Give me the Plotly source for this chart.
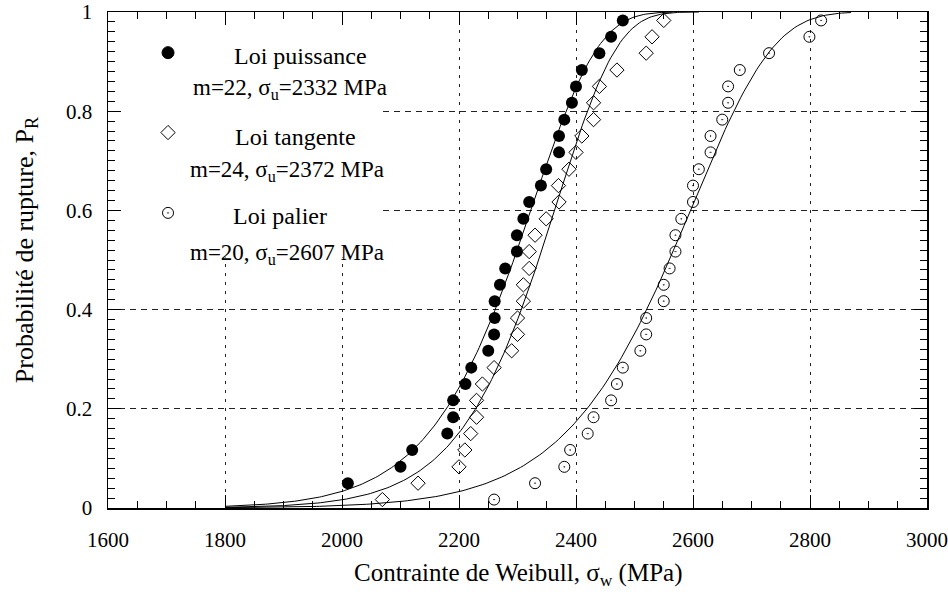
import numpy as np
import plotly.graph_objects as go

# Rank probabilities (30 specimens)
prob = [0.017, 0.05, 0.083, 0.117, 0.15, 0.183, 0.217, 0.25, 0.283, 0.317,
        0.35, 0.383, 0.417, 0.45, 0.483, 0.517, 0.55, 0.583, 0.617, 0.65,
        0.683, 0.717, 0.75, 0.783, 0.817, 0.85, 0.883, 0.917, 0.95, 0.983]

# Loi puissance (first rank not shown on the chart)
prob_puissance = prob[1:]
sigma_puissance = [2010, 2100, 2120, 2180, 2190, 2190, 2211, 2221, 2250, 2260,
                   2261, 2261, 2270, 2279, 2299, 2299, 2310, 2320, 2340, 2349,
                   2371, 2371, 2380, 2393, 2400, 2410, 2440, 2460, 2480]
# Loi tangente
sigma_tangente = [2069, 2130, 2200, 2210, 2220, 2230, 2230, 2240, 2260, 2290,
                  2300, 2300, 2310, 2310, 2320, 2320, 2330, 2349, 2371, 2370,
                  2388, 2400, 2410, 2430, 2430, 2440, 2470, 2520, 2530, 2550]
# Loi palier
sigma_palier = [2260, 2330, 2380, 2390, 2420, 2430, 2460, 2470, 2480, 2510,
                2520, 2520, 2550, 2550, 2560, 2570, 2570, 2580, 2600, 2600,
                2610, 2630, 2630, 2650, 2660, 2660, 2680, 2730, 2799, 2819]

# Weibull fit parameters given in the legend
laws = ["Loi puissance", "Loi tangente", "Loi palier"]
m_weibull = [22, 24, 20]
sigma_u = [2332, 2372, 2607]
curve_start = [1800, 1800, 1800]
curve_end = [2565, 2610, 2870]

x_ticks = [1600, 1800, 2000, 2200, 2400, 2600, 2800, 3000]
y_ticks = [0, 0.2, 0.4, 0.6, 0.8, 1]
y_ticktext = ["0", "0.2", "0.4", "0.6", "0.8", "1"]

FONT = "Liberation Serif"

fig = go.Figure()

# Weibull curves
for m, su, x0, x1 in zip(m_weibull, sigma_u, curve_start, curve_end):
    s = np.linspace(x0, x1, 200)
    pr = 1 - np.exp(-(s / su) ** m)
    fig.add_trace(go.Scatter(x=s, y=pr, mode="lines",
                             line=dict(color="black", width=1), showlegend=False,
                             hoverinfo="skip"))

fig.add_trace(go.Scatter(x=sigma_puissance, y=prob_puissance, mode="markers",
                         marker=dict(symbol="circle", size=12, color="black"),
                         name=laws[0], showlegend=False))
fig.add_trace(go.Scatter(x=sigma_tangente, y=prob, mode="markers",
                         marker=dict(symbol="diamond-open", size=11, color="black",
                                     line=dict(width=1, color="black")),
                         name=laws[1], showlegend=False))
fig.add_trace(go.Scatter(x=sigma_palier, y=prob, mode="markers",
                         marker=dict(symbol="circle-open-dot", size=11, color="black",
                                     line=dict(width=1, color="black")),
                         name=laws[2], showlegend=False))

# Legend block (drawn on an overlay axis in plot-fraction units)
leg_x = [0.0733, 0.0733, 0.0733]
leg_y = [0.918, 0.757, 0.595]
leg_symbols = ["circle", "diamond-open", "circle-open-dot"]
leg_sizes = [12, 11, 11]
for lx, ly, sym, sz in zip(leg_x, leg_y, leg_symbols, leg_sizes):
    fig.add_trace(go.Scatter(x=[lx], y=[ly], mode="markers", xaxis="x2", yaxis="y2",
                             marker=dict(symbol=sym, size=sz, color="black",
                                         line=dict(width=1, color="black")),
                             showlegend=False, hoverinfo="skip"))

leg_lines = [
    ("Loi puissance", 0.2350, 0.9105, 24),
    ("m=22, σ<sub>u</sub>=2332 MPa", 0.2225, 0.845, 23),
    ("Loi tangente", 0.2285, 0.7486, 24),
    ("m=24, σ<sub>u</sub>=2372 MPa", 0.2190, 0.680, 23),
    ("Loi palier", 0.2100, 0.588, 24),
    ("m=20, σ<sub>u</sub>=2607 MPa", 0.2190, 0.513, 23),
]
annotations = []
for txt, ax, ay, fs in leg_lines:
    annotations.append(dict(text=txt, x=ax, y=ay, xref="paper", yref="paper",
                            xanchor="center", yanchor="middle", showarrow=False,
                            font=dict(family=FONT, size=fs, color="black")))

annotations.append(dict(text="Contrainte de Weibull, σ<sub>w</sub> (MPa)",
                        x=0.5, y=-0.135, xref="paper", yref="paper",
                        xanchor="center", yanchor="middle", showarrow=False,
                        font=dict(family=FONT, size=25, color="black")))
annotations.append(dict(text="Probabilité de rupture, P<sub>R</sub>",
                        x=-0.10, y=0.52, xref="paper", yref="paper",
                        xanchor="center", yanchor="middle", showarrow=False,
                        textangle=-90,
                        font=dict(family=FONT, size=26, color="black")))

xaxis = dict(
    range=[1600, 3000], tickmode="array", tickvals=x_ticks,
    ticktext=[str(v) for v in x_ticks], automargin=False,
    ticks="inside", ticklen=13, tickwidth=1, tickcolor="black",
    showline=True, linecolor="black", linewidth=1.5, mirror="ticks",
    showgrid=True, gridcolor="#222222", griddash="3px,6px", gridwidth=1,
    zeroline=False,
    minor=dict(dtick=50, tick0=1600, ticks="inside", ticklen=7, tickcolor="black",
               tickwidth=1, showgrid=False),
    tickfont=dict(family=FONT, size=21, color="black"),
    ticklabelstandoff=12,
)
yaxis = dict(
    range=[0, 1], tickmode="array", tickvals=y_ticks,
    ticktext=y_ticktext, automargin=False,
    ticks="inside", ticklen=13, tickwidth=1, tickcolor="black",
    showline=True, linecolor="black", linewidth=1.5, mirror="ticks",
    showgrid=True, gridcolor="#222222", griddash="6px,5px", gridwidth=1,
    zeroline=False,
    minor=dict(dtick=0.02, tick0=0, ticks="inside", ticklen=7, tickcolor="black",
               tickwidth=1, showgrid=False),
    tickfont=dict(family=FONT, size=21, color="black"),
    ticklabelstandoff=10,
)

fig.update_layout(
    width=948, height=594,
    margin=dict(l=108, r=21, t=12, b=86, autoexpand=False),
    paper_bgcolor="white", plot_bgcolor="white",
    showlegend=False,
    annotations=annotations,
    xaxis=xaxis, yaxis=yaxis,
    shapes=[dict(type="rect", xref="x", yref="y", x0=1602, x1=2069, y0=0.505, y1=0.995,
                 fillcolor="white", line=dict(width=0), layer="between")],
    xaxis2=dict(overlaying="x", range=[0, 1], visible=False),
    yaxis2=dict(overlaying="y", range=[0, 1], visible=False),
)

# Remove the default page margin so the figure fills the 948x594 window exactly.
fig.write_html("out.html",
               config={"displayModeBar": False, "staticPlot": True},
               post_script="document.body.style.margin='0px';"
                           "document.body.style.overflow='hidden';")
